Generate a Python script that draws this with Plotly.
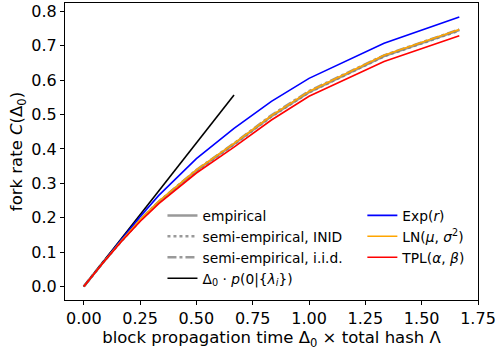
import plotly.graph_objects as go

# x: block propagation time Δ0 × total hash Λ
delta = [0, 0.083, 0.167, 0.25, 0.333, 0.5, 0.667, 0.833, 1.0, 1.333, 1.667]

empirical = [0, 0.068, 0.133, 0.193, 0.246, 0.337, 0.414, 0.495, 0.565, 0.670, 0.745]
semi_inid = [0, 0.068, 0.132, 0.192, 0.245, 0.336, 0.413, 0.494, 0.564, 0.669, 0.744]
semi_iid = [0, 0.069, 0.134, 0.194, 0.247, 0.339, 0.416, 0.498, 0.568, 0.672, 0.747]

delta_lin = [0, 0.167, 0.333, 0.5, 0.667]
lin_bound = [0, 0.139, 0.278, 0.417, 0.557]

exp_fit = [0, 0.069, 0.137, 0.203, 0.265, 0.372, 0.460, 0.538, 0.605, 0.707, 0.783]
ln_fit = [0, 0.068, 0.133, 0.194, 0.248, 0.339, 0.416, 0.497, 0.567, 0.672, 0.747]
tpl_fit = [0, 0.067, 0.131, 0.189, 0.241, 0.330, 0.405, 0.484, 0.553, 0.654, 0.729]

xticks = [0.0, 0.25, 0.5, 0.75, 1.0, 1.25, 1.5, 1.75]
xticklabels = ["0.00", "0.25", "0.50", "0.75", "1.00", "1.25", "1.50", "1.75"]
yticks = [0.0, 0.1, 0.2, 0.3, 0.4, 0.5, 0.6, 0.7, 0.8]
yticklabels = ["0.0", "0.1", "0.2", "0.3", "0.4", "0.5", "0.6", "0.7", "0.8"]

GRAY = "rgba(128,128,128,0.8)"
fig = go.Figure()
fig.add_trace(go.Scatter(x=delta, y=empirical, mode="lines", name="empirical",
                         line=dict(color=GRAY, width=2.5), legend="legend"))
fig.add_trace(go.Scatter(x=delta, y=semi_inid, mode="lines", name="semi-empirical, INID",
                         line=dict(color=GRAY, width=2.5, dash="dot"), legend="legend"))
fig.add_trace(go.Scatter(x=delta, y=semi_iid, mode="lines", name="semi-empirical, i.i.d.",
                         line=dict(color=GRAY, width=2.5, dash="dashdot"), legend="legend"))
fig.add_trace(go.Scatter(x=delta_lin, y=lin_bound, mode="lines",
                         name="Δ<sub>0</sub> · <i>p</i>(0|{<i>λ<sub>i</sub></i>})",
                         line=dict(color="black", width=1.6), legend="legend"))
fig.add_trace(go.Scatter(x=delta, y=exp_fit, mode="lines", name="Exp(<i>r</i>)",
                         line=dict(color="#0000ff", width=1.6), legend="legend2"))
fig.add_trace(go.Scatter(x=delta, y=ln_fit, mode="lines",
                         name="LN(<i>μ</i>, <i>σ</i><sup>2</sup>)",
                         line=dict(color="#ffa500", width=1.6), legend="legend2"))
fig.add_trace(go.Scatter(x=delta, y=tpl_fit, mode="lines", name="TPL(<i>α</i>, <i>β</i>)",
                         line=dict(color="#ff0000", width=1.6), legend="legend2"))

axis_common = dict(showline=True, linecolor="black", linewidth=1, mirror=True,
                   ticks="outside", ticklen=4, tickcolor="black", tickwidth=1,
                   showgrid=False, zeroline=False,
                   tickfont=dict(family="DejaVu Sans", size=16, color="black"))

fig.update_layout(
    width=498, height=351,
    margin=dict(l=65, r=18, t=2, b=51),
    paper_bgcolor="white", plot_bgcolor="white",
    font=dict(family="DejaVu Sans", color="black"),
    xaxis=dict(range=[-0.0833, 1.75], tickvals=xticks, ticktext=xticklabels,
               title=dict(text="block propagation time Δ<sub>0</sub> × total hash Λ",
                          font=dict(size=16.5), standoff=3), **axis_common),
    yaxis=dict(range=[-0.039, 0.824], tickvals=yticks, ticktext=yticklabels,
               title=dict(text="fork rate <i>C</i>(Δ<sub>0</sub>)",
                          font=dict(size=16.5), standoff=4), **axis_common),
    legend=dict(x=0.236, y=0.337, xanchor="left", yanchor="top",
                bgcolor="rgba(0,0,0,0)", font=dict(size=13.8), tracegroupgap=0),
    legend2=dict(x=0.72, y=0.337, xanchor="left", yanchor="top",
                 bgcolor="rgba(0,0,0,0)", font=dict(size=13.8), tracegroupgap=0),
    showlegend=True,
)

fig.write_html("out.html")
